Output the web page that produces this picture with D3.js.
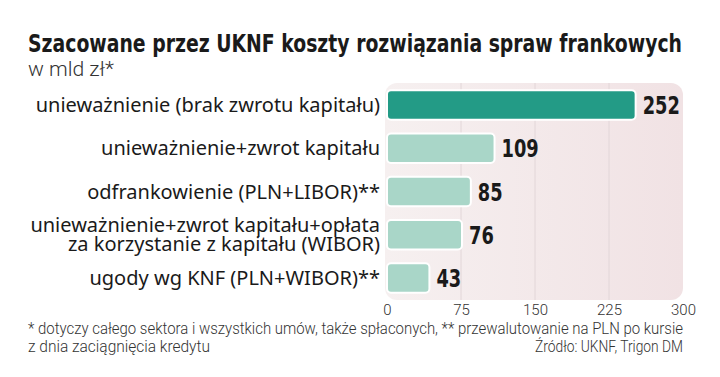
<!DOCTYPE html>
<html>
<head>
<meta charset="utf-8">
<script src="https://cdn.jsdelivr.net/npm/d3@7"></script>
<style>
  body { margin: 0; background: #fff; }
  text { font-family: "Noto Sans", "Open Sans", sans-serif; }
</style>
</head>
<body>
<div id="chart"></div>
<script>
// data
const categories = [
    ["unieważnienie (brak zwrotu kapitału)"],
    ["unieważnienie+zwrot kapitału"],
    ["odfrankowienie (PLN+LIBOR)**"],
    ["unieważnienie+zwrot kapitału+opłata", "za korzystanie z kapitału (WIBOR)"],
    ["ugody wg KNF (PLN+WIBOR)**"]
];
const values = [252, 109, 85, 76, 43];
const ticks = [0, 75, 150, 225, 300];

const width = 720, height = 377,
    margin = ({top: 83, right: 37, bottom: 77, left: 387});

let svg = d3.select('#chart')
    .append('svg')
    .attr('width', width)
    .attr('height', height);

let x = d3.scaleLinear()
    .domain([0, 300])
    .range([margin.left, width - margin.right]);

let y = d3.scaleBand()
    .domain(d3.range(values.length))
    .range([margin.top + 2, height - margin.bottom - 2])
    .paddingInner(0.32)
    .paddingOuter(0.12);

// titles
svg.append('text')
    .attr('x', 28).attr('y', 52)
    .attr('textLength', 654).attr('lengthAdjust', 'spacingAndGlyphs')
    .style('font-family', '"DejaVu Sans Condensed", "Liberation Sans Narrow", sans-serif')
    .style('font-weight', 'bold').style('font-size', '24px').attr('fill', '#1a1a1a')
    .text('Szacowane przez UKNF koszty rozwiązania spraw frankowych');

svg.append('text')
    .attr('x', 28).attr('y', 76)
    .attr('textLength', 86).attr('lengthAdjust', 'spacingAndGlyphs')
    .style('font-family', 'Roboto, sans-serif').style('font-weight', 300)
    .style('font-size', '20px').attr('fill', '#333')
    .text('w mld zł*');

// plot background
let defs = svg.append('defs');
let grad = defs.append('linearGradient').attr('id', 'bg');
grad.append('stop').attr('offset', '0%').attr('stop-color', '#f6f0f0');
grad.append('stop').attr('offset', '100%').attr('stop-color', '#f1e2e4');

svg.append('rect')
    .attr('x', x(0) - 2).attr('y', margin.top)
    .attr('width', x(300) - x(0) + 2).attr('height', height - margin.bottom - margin.top)
    .attr('rx', 12)
    .attr('fill', 'url(#bg)');

// gridlines
svg.append('g')
    .selectAll('line')
    .data(ticks.slice(1, -1))
    .join('line')
    .attr('x1', d => x(d)).attr('x2', d => x(d))
    .attr('y1', margin.top).attr('y2', height - margin.bottom)
    .attr('stroke', '#e2d6d8').attr('stroke-width', 1);

// axis
const xAxis = g => g
    .attr('transform', `translate(0, ${height - margin.bottom})`)
    .call(d3.axisBottom(x).tickValues(ticks).tickSize(0).tickPadding(4))
    .call(g => g.select('.domain').remove())
    .call(g => g.selectAll('text')
        .style('font-family', 'Roboto, sans-serif').style('font-weight', 300)
        .style('font-size', '15px').attr('fill', '#333'));

svg.append('g').call(xAxis);

// bars
let bar = svg.selectAll('.bar')
    .data(values)
    .join('g')
    .attr('class', 'bar');

bar.append('rect')
    .attr('x', x(0))
    .attr('y', (d, i) => y(i))
    .attr('width', d => x(d) - x(0))
    .attr('height', y.bandwidth())
    .attr('rx', 4)
    .attr('fill', (d, i) => i === 0 ? '#239b86' : '#a9d6c8')
    .attr('stroke', '#ffffff')
    .attr('stroke-width', 2);

bar.append('text')
    .attr('x', d => x(d) + 7)
    .attr('y', (d, i) => y(i) + y.bandwidth() / 2 + 9)
    .attr('textLength', d => String(d).length * 12.4)
    .attr('lengthAdjust', 'spacingAndGlyphs')
    .style('font-family', '"DejaVu Sans Condensed", "Liberation Sans Narrow", sans-serif')
    .style('font-weight', 'bold').style('font-size', '25px').attr('fill', '#1a1a1a')
    .text(d => d);

// category labels
let lab = svg.append('g')
    .selectAll('text')
    .data(categories)
    .join('text')
    .attr('text-anchor', 'end')
    .attr('y', (d, i) => y(i) + y.bandwidth() / 2 + 7 - (d.length - 1) * 9.5)
    .style('font-size', '20px').attr('fill', '#1a1a1a');

lab.selectAll('tspan')
    .data(d => d)
    .join('tspan')
    .attr('x', 380)
    .attr('dy', (d, i) => i === 0 ? 0 : 19)
    .text(d => d);

// footnotes
const foot = g => g
    .style('font-family', 'Roboto, sans-serif').style('font-weight', 300)
    .style('font-size', '16px').attr('fill', '#333');

svg.append('text').call(foot)
    .attr('x', 28).attr('y', 334)
    .attr('textLength', 655).attr('lengthAdjust', 'spacingAndGlyphs')
    .text('* dotyczy całego sektora i wszystkich umów, także spłaconych, ** przewalutowanie na PLN po kursie');

svg.append('text').call(foot)
    .attr('x', 28).attr('y', 352)
    .attr('textLength', 182).attr('lengthAdjust', 'spacingAndGlyphs')
    .text('z dnia zaciągnięcia kredytu');

svg.append('text').call(foot)
    .attr('x', 683).attr('y', 352)
    .attr('text-anchor', 'end')
    .attr('textLength', 148).attr('lengthAdjust', 'spacingAndGlyphs')
    .text('Źródło: UKNF, Trigon DM');
</script>
</body>
</html>
